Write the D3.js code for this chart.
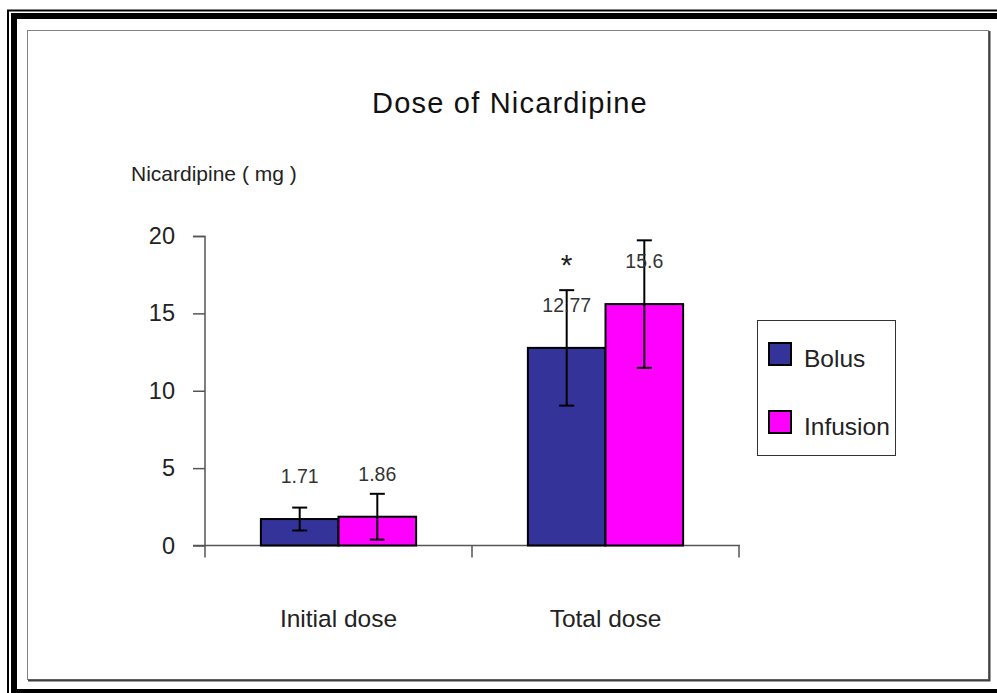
<!DOCTYPE html>
<html>
<head>
<meta charset="utf-8">
<script src="https://cdn.jsdelivr.net/npm/d3@7"></script>
<style>
  body { margin: 0; background: #fff; }
  svg { display: block; font-family: "Liberation Sans", Arial, sans-serif; }
</style>
</head>
<body>
<script>
const categories = ['Initial dose', 'Total dose'];
const series = ['Bolus', 'Infusion'];
const bolusValues = [1.71, 12.77];
const infusionValues = [1.86, 15.6];
const bolusErrors = [0.74, 3.73];
const infusionErrors = [1.48, 4.12];
const valueLabels = [['1.71', '12.77'], ['1.86', '15.6']];
const yTicks = [0, 5, 10, 15, 20];

const colors = d3.scaleOrdinal().domain(series).range(['#333399', '#ff00ff']);

const W = 997, H = 693;
const svg = d3.select('body').append('svg').attr('width', W).attr('height', H);

// frames (right and bottom run off the page)
svg.append('rect').attr('x', 8).attr('y', 10.5).attr('width', 1000).attr('height', 700)
  .attr('fill', 'none').attr('stroke', '#000').attr('stroke-width', 2);
svg.append('rect').attr('x', 14).attr('y', 16).attr('width', 992).attr('height', 676)
  .attr('fill', 'none').attr('stroke', '#000').attr('stroke-width', 6);
svg.append('rect').attr('x', 27.5).attr('y', 30.5).attr('width', 961).attr('height', 649)
  .attr('fill', '#fff').attr('stroke', '#808080').attr('stroke-width', 1);
svg.append('path').attr('d', 'M989.5,31V680.5H28')
  .attr('fill', 'none').attr('stroke', '#404040').attr('stroke-width', 2);

const x0 = d3.scaleBand().domain(categories).range([205, 739]).paddingInner(0).paddingOuter(0);
const x1 = d3.scaleBand().domain(series).range([0, x0.bandwidth()]).paddingInner(0).paddingOuter(0.72);
const y = d3.scaleLinear().domain([0, 20]).range([545.5, 236]);

// y axis
const yAxis = svg.append('g').attr('transform', 'translate(205,0)')
  .call(d3.axisLeft(y).tickValues(yTicks).tickSize(12).tickPadding(18));
yAxis.select('.domain').attr('stroke', '#555').attr('stroke-width', 1.5).attr('d', 'M-12,236.5H0V546');
yAxis.selectAll('.tick line').attr('stroke', '#555').attr('stroke-width', 1.5);
yAxis.selectAll('.tick text').attr('font-size', 23.5).attr('fill', '#222')
  .attr('font-family', '"Liberation Sans", Arial, sans-serif');

// x axis
const xAxis = svg.append('g').attr('transform', 'translate(0,545.5)');
xAxis.append('line').attr('x1', 193).attr('x2', 740).attr('stroke', '#555').attr('stroke-width', 1.5);
xAxis.selectAll('.xt').data([205, 472, 739]).join('line')
  .attr('x1', d => d).attr('x2', d => d).attr('y1', 0).attr('y2', 12)
  .attr('stroke', '#555').attr('stroke-width', 1.5);
xAxis.selectAll('.xl').data(categories).join('text')
  .attr('x', d => x0(d) + x0.bandwidth() / 2).attr('y', 81)
  .attr('text-anchor', 'middle').attr('font-size', 24.5).attr('fill', '#222').text(d => d);

const rows = categories.flatMap((c, i) => [
  { cat: c, s: 'Bolus', v: bolusValues[i], e: bolusErrors[i], label: valueLabels[0][i] },
  { cat: c, s: 'Infusion', v: infusionValues[i], e: infusionErrors[i], label: valueLabels[1][i] }
]);
const cx = d => x0(d.cat) + x1(d.s) + x1.bandwidth() / 2;

svg.append('g').selectAll('rect').data(rows).join('rect')
  .attr('x', d => x0(d.cat) + x1(d.s))
  .attr('y', d => y(d.v))
  .attr('width', x1.bandwidth())
  .attr('height', d => y(0) - y(d.v))
  .attr('fill', d => colors(d.s))
  .attr('stroke', '#000').attr('stroke-width', 2);

const err = svg.append('g').attr('stroke', '#000').attr('stroke-width', 2);
rows.forEach(d => {
  const c = cx(d);
  err.append('line').attr('x1', c).attr('x2', c).attr('y1', y(d.v + d.e)).attr('y2', y(d.v - d.e));
  err.append('line').attr('x1', c - 7.5).attr('x2', c + 7.5).attr('y1', y(d.v + d.e)).attr('y2', y(d.v + d.e));
  err.append('line').attr('x1', c - 7.5).attr('x2', c + 7.5).attr('y1', y(d.v - d.e)).attr('y2', y(d.v - d.e));
});

svg.append('g').selectAll('text').data(rows).join('text')
  .attr('x', cx).attr('y', d => y(d.v) - 36)
  .attr('text-anchor', 'middle').attr('font-size', 19.5).attr('fill', '#333')
  .text(d => d.label);

// significance mark
svg.append('text').attr('x', cx(rows[2])).attr('y', 275)
  .attr('text-anchor', 'middle').attr('font-size', 30).attr('fill', '#222').text('*');

// titles
svg.append('text').attr('x', 510).attr('y', 113).attr('text-anchor', 'middle')
  .attr('font-size', 29).attr('letter-spacing', 1.2).attr('fill', '#111').text('Dose of Nicardipine');
svg.append('text').attr('x', 131).attr('y', 181)
  .attr('font-size', 21).attr('fill', '#222').text('Nicardipine ( mg )');

// legend
const lg = svg.append('g');
lg.append('rect').attr('x', 757.5).attr('y', 320.5).attr('width', 138).attr('height', 135)
  .attr('fill', '#fff').attr('stroke', '#333').attr('stroke-width', 1);
series.forEach((s, i) => {
  const yy = 343 + i * 68;
  lg.append('rect').attr('x', 769).attr('y', yy).attr('width', 22).attr('height', 22)
    .attr('fill', colors(s)).attr('stroke', '#000').attr('stroke-width', 2);
  lg.append('text').attr('x', 804).attr('y', yy + 24).attr('font-size', 24.5).attr('fill', '#222').text(s);
});
</script>
</body>
</html>
